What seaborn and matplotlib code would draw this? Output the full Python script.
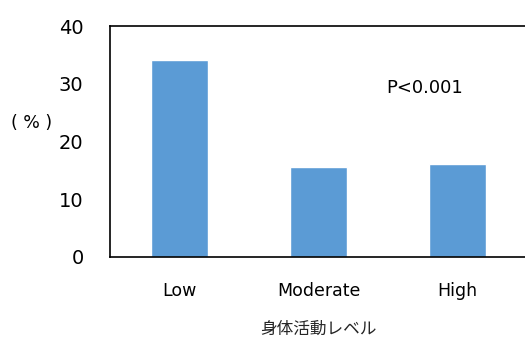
import matplotlib
matplotlib.use("Agg")
import matplotlib.pyplot as plt
import seaborn as sns
import pandas as pd

categories = ["Low", "Moderate", "High"]
values = [34.1, 15.6, 16.1]
yticks = [0, 10, 20, 30, 40]

sns.set_theme(style="white")
plt.rcParams['font.family'] = ['DejaVu Sans', 'Noto Sans CJK JP']

df = pd.DataFrame({"level": categories, "pct": values})

fig = plt.figure(figsize=(5.25, 3.42), dpi=100)
ax = fig.add_axes([110/525, 1-257/342, 417/525, 231/342])
sns.barplot(data=df, x="level", y="pct", color="#5B9BD5", saturation=1,
            width=0.417, ax=ax)
ax.set_xlim(-0.5, 2.5)
ax.set_ylim(0, 40)
ax.set_yticks(yticks)
ax.set_yticklabels([str(t) for t in yticks])
ax.tick_params(axis='y', length=0, pad=19, labelsize=14, colors='black')
ax.tick_params(axis='x', length=0, pad=18, labelsize=12.5, colors='black')
for s in ['left', 'top', 'bottom']:
    ax.spines[s].set_visible(True)
    ax.spines[s].set_color('black')
    ax.spines[s].set_linewidth(1.2)
ax.spines['right'].set_visible(False)
ax.set_xlabel("身体活動レベル", fontsize=12, labelpad=15,
              family=['Noto Sans CJK JP', 'DejaVu Sans'])
ax.set_ylabel("")
ax.text(1.76, 29.3, "P<0.001", ha='center', va='center', fontsize=13, color='black')
fig.text(32/525, 1-123/342, "( % )", ha='center', va='center', fontsize=12.5, color='black')

fig.savefig("out.png", dpi=100)
